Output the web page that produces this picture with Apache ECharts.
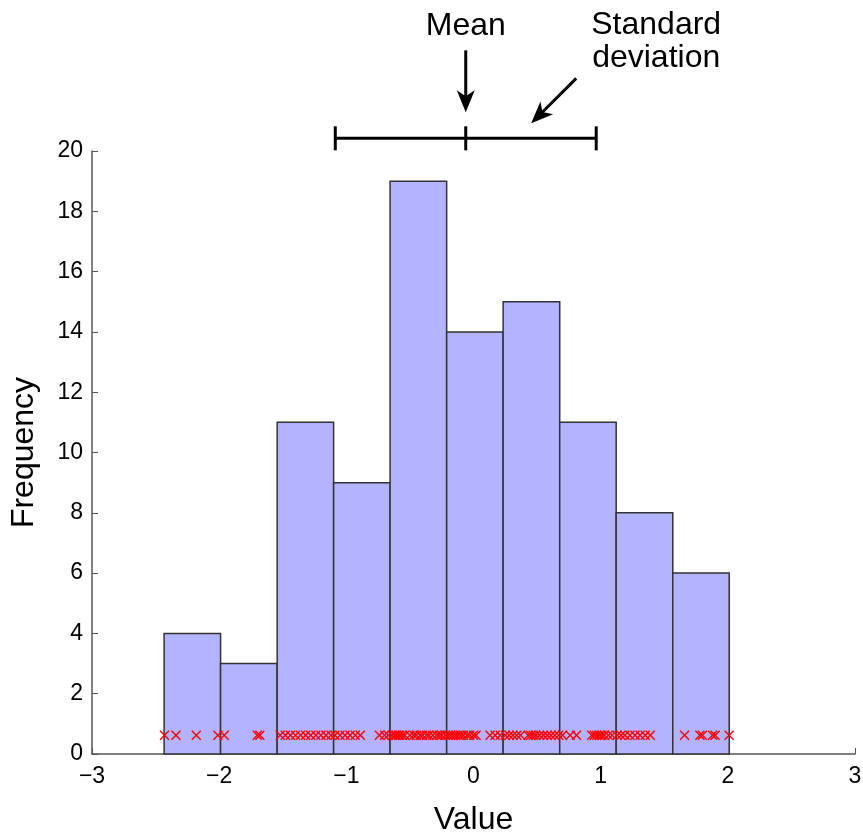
<!DOCTYPE html>
<html>
<head>
<meta charset="utf-8">
<script src="https://cdn.jsdelivr.net/npm/echarts@6/dist/echarts.min.js"></script>
<style>
  html, body { margin: 0; padding: 0; background: #fff; }
  #main { width: 863px; height: 832px; }
</style>
</head>
<body>
<div id="main"></div>
<script>
// bin edges and counts
const binEdges = [-2.433, -1.989, -1.544, -1.100, -0.656, -0.211, 0.233, 0.678, 1.122, 1.567, 2.011]
const binCounts = [4, 3, 11, 9, 19, 14, 15, 11, 8, 6]

// the individual samples (red crosses)
const samples = [
  -2.43, -2.34, -2.18, -2.01,
  -1.96, -1.70, -1.68,
  -1.52, -1.48, -1.44, -1.40, -1.36, -1.32, -1.28, -1.24, -1.20, -1.16, -1.12,
  -1.09, -1.05, -1.01, -0.97, -0.93, -0.89, -0.74, -0.70, -0.67,
  -0.64, -0.62, -0.61, -0.59, -0.58, -0.56, -0.54, -0.50, -0.47, -0.45,
  -0.42, -0.40, -0.37, -0.35, -0.32, -0.29, -0.27, -0.25, -0.22,
  -0.20, -0.18, -0.16, -0.14, -0.12, -0.10, -0.08, -0.05, -0.03, 0.00, 0.02, 0.13, 0.17, 0.21,
  0.25, 0.28, 0.31, 0.34, 0.37, 0.43, 0.45, 0.47, 0.49, 0.52, 0.55, 0.58, 0.61, 0.64, 0.67,
  0.70, 0.76, 0.81, 0.93, 0.95, 0.97, 0.99, 1.01, 1.03, 1.06, 1.09,
  1.13, 1.16, 1.19, 1.23, 1.27, 1.31, 1.35, 1.39,
  1.66, 1.78, 1.80, 1.88, 1.90, 2.01
]
const sampleY = 0.62

// mean / standard deviation bar above the plot
const meanValue = -0.061
const sdValue = 1.026
const sdBarY = 20.42

const FONT = '"Liberation Sans", Arial, Helvetica, sans-serif'

const barData = binCounts.map((c, i) => [binEdges[i], binEdges[i + 1], c])
const crossData = samples.map((v) => [v, sampleY])

function arrowHead(tip, from, len, half, notch) {
  const dx = tip[0] - from[0], dy = tip[1] - from[1]
  const d = Math.sqrt(dx * dx + dy * dy)
  const ux = dx / d, uy = dy / d
  const nx = -uy, ny = ux
  const bx = tip[0] - ux * len, by = tip[1] - uy * len
  const mx = tip[0] - ux * (len - notch), my = tip[1] - uy * (len - notch)
  return {
    head: [tip, [bx + nx * half, by + ny * half], [mx, my], [bx - nx * half, by - ny * half]],
    neck: [mx, my]
  }
}

var myChart = echarts.init(document.getElementById('main'))

var option = {
  animation: false,
  grid: { left: 92, right: 8, top: 151, bottom: 78, containLabel: false, outerBoundsMode: 'none' },
  xAxis: {
    type: 'value',
    min: -3,
    max: 3,
    interval: 1,
    name: 'Value',
    nameLocation: 'middle',
    nameGap: 50,
    nameTextStyle: { fontSize: 32, fontFamily: FONT, color: '#000' },
    axisLine: { show: true, onZero: false, lineStyle: { color: '#555', width: 1.5 } },
    axisTick: { show: true, inside: true, length: 6, lineStyle: { color: '#555' } },
    axisLabel: {
      fontSize: 23, fontFamily: FONT, color: '#000', margin: 11,
      formatter: (v) => String(v).replace('-', '\u2212')
    },
    splitLine: { show: false }
  },
  yAxis: {
    type: 'value',
    min: 0,
    max: 20,
    interval: 2,
    name: 'Frequency',
    nameLocation: 'middle',
    nameGap: 52,
    nameRotate: 90,
    nameTextStyle: { fontSize: 32, fontFamily: FONT, color: '#000' },
    axisLine: { show: true, onZero: false, lineStyle: { color: '#555', width: 1.5 } },
    axisTick: { show: true, inside: true, length: 6, lineStyle: { color: '#555' } },
    axisLabel: { fontSize: 23, fontFamily: FONT, color: '#000', margin: 9 },
    splitLine: { show: false }
  },
  series: [
    {
      type: 'custom',
      name: 'histogram',
      data: barData,
      encode: { x: [0, 1], y: 2 },
      renderItem: function (params, api) {
        const p0 = api.coord([api.value(0), 0])
        const p1 = api.coord([api.value(1), api.value(2)])
        return {
          type: 'rect',
          shape: { x: p0[0], y: p1[1], width: p1[0] - p0[0], height: p0[1] - p1[1] },
          style: { fill: '#b3b3ff', stroke: '#333', lineWidth: 1.5 }
        }
      },
      z: 2
    },
    {
      type: 'custom',
      name: 'samples',
      data: crossData,
      encode: { x: 0, y: 1 },
      renderItem: function (params, api) {
        const p = api.coord([api.value(0), api.value(1)])
        const s = 4.5
        const st = { stroke: '#ff0000', lineWidth: 1.4 }
        return {
          type: 'group',
          children: [
            { type: 'line', shape: { x1: p[0] - s, y1: p[1] - s, x2: p[0] + s, y2: p[1] + s }, style: st },
            { type: 'line', shape: { x1: p[0] - s, y1: p[1] + s, x2: p[0] + s, y2: p[1] - s }, style: st }
          ]
        }
      },
      z: 3
    },
    {
      type: 'custom',
      name: 'meanSd',
      clip: false,
      data: [[meanValue, sdValue, sdBarY]],
      encode: { x: 0, y: 2 },
      renderItem: function (params, api) {
        const m = api.value(0), sd = api.value(1), yv = api.value(2)
        const c = api.coord([m, yv])
        const l = api.coord([m - sd, yv])
        const r = api.coord([m + sd, yv])
        const ln = { stroke: '#000', lineWidth: 3 }
        const cap = 12
        const children = [
          { type: 'line', shape: { x1: l[0], y1: l[1], x2: r[0], y2: r[1] }, style: ln },
          { type: 'line', shape: { x1: l[0], y1: l[1] - cap, x2: l[0], y2: l[1] + cap }, style: ln },
          { type: 'line', shape: { x1: c[0], y1: c[1] - cap, x2: c[0], y2: c[1] + cap }, style: ln },
          { type: 'line', shape: { x1: r[0], y1: r[1] - cap, x2: r[0], y2: r[1] + cap }, style: ln }
        ]
        // mean arrow
        const mTail = [c[0], c[1] - 88]
        const mTip = [c[0], c[1] - 26]
        const ma = arrowHead(mTip, mTail, 22, 9, 6)
        children.push({ type: 'line', shape: { x1: mTail[0], y1: mTail[1], x2: ma.neck[0], y2: ma.neck[1] }, style: ln })
        children.push({ type: 'polygon', shape: { points: ma.head }, style: { fill: '#000' } })
        children.push({
          type: 'text',
          style: { text: 'Mean', x: c[0], y: c[1] - 112, align: 'center', verticalAlign: 'middle', fontSize: 32, fontFamily: FONT, fill: '#000' }
        })
        // standard deviation arrow
        const sTail = [r[0] - 20, r[1] - 60]
        const sTip = [r[0] - 65, r[1] - 15]
        const sa = arrowHead(sTip, sTail, 22, 9, 6)
        children.push({ type: 'line', shape: { x1: sTail[0], y1: sTail[1], x2: sa.neck[0], y2: sa.neck[1] }, style: ln })
        children.push({ type: 'polygon', shape: { points: sa.head }, style: { fill: '#000' } })
        children.push({
          type: 'text',
          style: { text: 'Standard', x: r[0] + 60, y: r[1] - 113, align: 'center', verticalAlign: 'middle', fontSize: 32, fontFamily: FONT, fill: '#000' }
        })
        children.push({
          type: 'text',
          style: { text: 'deviation', x: r[0] + 60, y: r[1] - 80, align: 'center', verticalAlign: 'middle', fontSize: 32, fontFamily: FONT, fill: '#000' }
        })
        return { type: 'group', children: children }
      },
      z: 4
    }
  ]
}

myChart.setOption(option)
window.onresize = function () {
  myChart.resize()
}
</script>
</body>
</html>
